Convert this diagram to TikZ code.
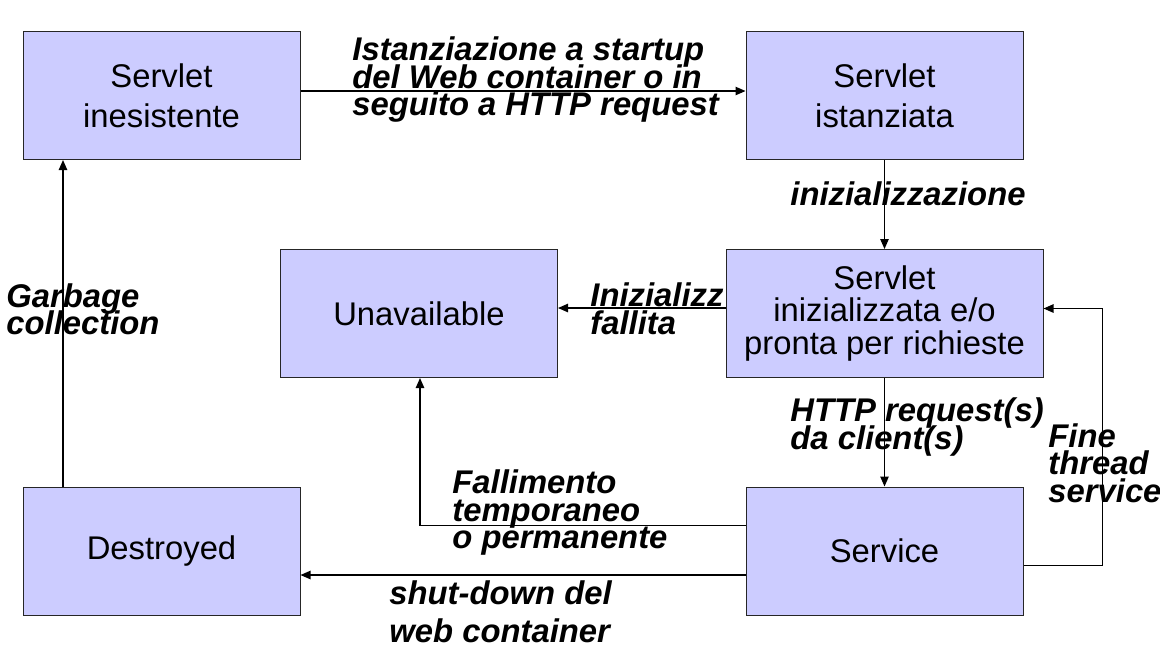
\documentclass[tikz,border=0pt]{standalone}
\usepackage{fontspec}
\setmainfont{Liberation Sans}
\usetikzlibrary{positioning,arrows.meta}

\definecolor{statefill}{HTML}{CCCCFF}
\newcommand{\tightlines}{\setlength{\lineskiplimit}{-20pt}}

\begin{document}
\begin{tikzpicture}[
  x=0.5pt, y=-0.5pt,
  state/.style={draw=black!85, fill=statefill, line width=0.5pt, inner sep=0pt,
    minimum width=138.5pt, minimum height=64pt, align=center,
    font=\fontsize{16.4}{20}\selectfont},
  lbl/.style={inner sep=0pt, anchor=west, align=left,
    font=\fontsize{16.4}{13.75}\selectfont\tightlines\bfseries\itshape},
  arr/.style={line width=0.65pt, -{Triangle[length=5pt,width=4.2pt]}}
]
\useasboundingbox (0,0) rectangle (1160,655);

% labels first, the boxes cover them
\node[lbl] (linst) at (352,80) {Istanziazione a startup\\del Web container o in\\seguito a HTTP request};
\node[lbl] (linit) at (790,194) {inizializzazione};
\node[lbl] (lfail) at (590,309) {Inizializz\\fallita};
\node[lbl] (lreq) at (790,427) {HTTP request(s)\\da client(s)};
\node[lbl] (lend) at (1048,463) {Fine\\thread\\service};
\node[lbl] (lgc) at (6,309.5) {Garbage\\collection};
\node[lbl] (lerr) at (452,513) {Fallimento\\temporaneo\\o permanente};
\node[lbl, font=\fontsize{16.4}{19}\selectfont\bfseries\itshape] (lshut) at (389,612) {shut-down del\\web container};

% states
\node[state] (none) at (161.5,95.5) {Servlet\\inesistente};
\node[state] (inst) at (884.5,95.5) {Servlet\\istanziata};
\node[state, minimum width=158.5pt, font=\fontsize{16.4}{16.25}\selectfont] (ready) at (884.5,313.5) {Servlet\\inizializzata e/o\\pronta per richieste};
\node[state] (unav) at (419,313.5) {Unavailable};
\node[state] (dest) at (161.5,551) {Destroyed};
\node[state] (serv) at (884.5,551) {Service};

% transitions
\draw[arr] (none.east |- 0,91) -- (inst.west |- 0,91);
\draw[arr] (inst) -- (ready);
\draw[arr] (ready.west |- 0,308) -- (unav.east |- 0,308);
\draw[arr] (ready) -- (serv);
\draw[arr] (serv.west |- 0,525.5) -| (unav.south -| 420,0);
\draw[arr] (serv.west |- 0,575) -- (dest.east |- 0,575);
\draw[arr] (dest.north -| 63,0) -- (none.south -| 63,0);
\draw[arr] (serv.east |- 0,565.5) -- (1102.5,565.5) |- (ready.east |- 0,308.5);
\end{tikzpicture}
\end{document}
